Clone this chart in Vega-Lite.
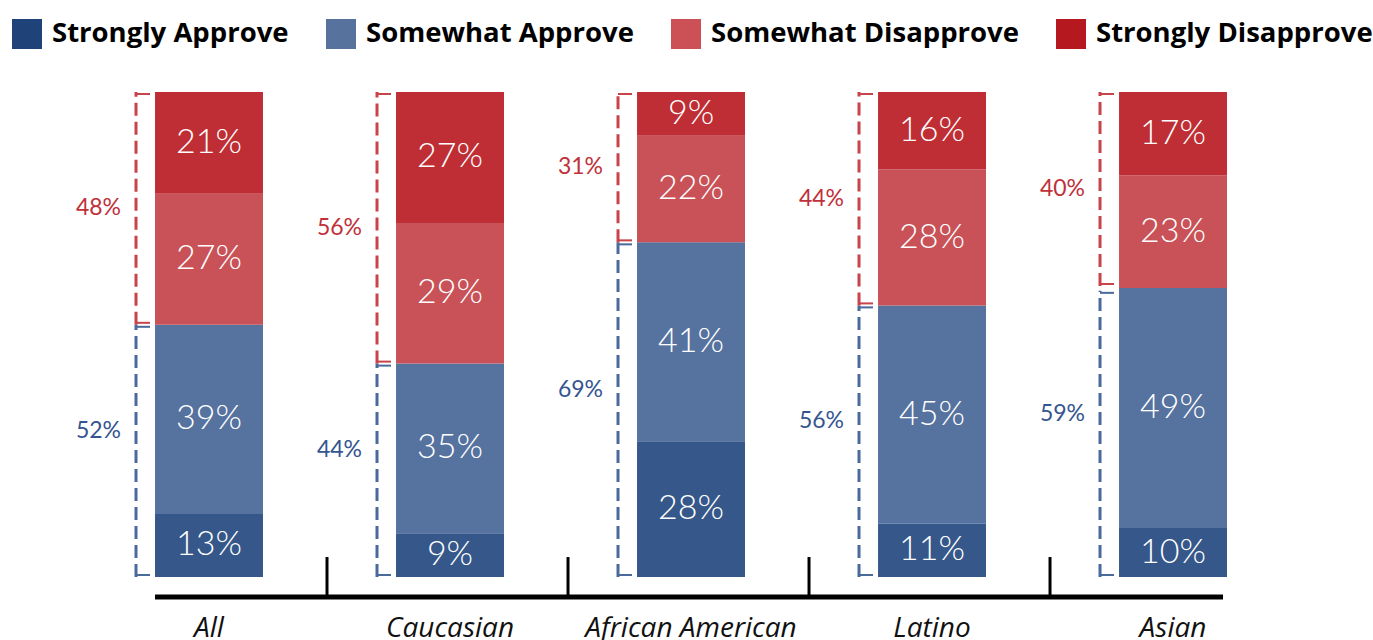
{
  "$schema": "https://vega.github.io/schema/vega-lite/v6.json",
  "width": 1373,
  "height": 505,
  "autosize": {"type": "none"},
  "padding": {"left": 0, "top": 92, "right": 0, "bottom": 43},
  "background": "white",
  "config": {"view": {"stroke": null}, "font": "Lato"},
  "datasets": {
    "bars": [
      {"group": "All", "level": "Strongly Approve", "pct": 13},
      {"group": "All", "level": "Somewhat Approve", "pct": 39},
      {"group": "All", "level": "Somewhat Disapprove", "pct": 27},
      {"group": "All", "level": "Strongly Disapprove", "pct": 21},
      {"group": "Caucasian", "level": "Strongly Approve", "pct": 9},
      {"group": "Caucasian", "level": "Somewhat Approve", "pct": 35},
      {"group": "Caucasian", "level": "Somewhat Disapprove", "pct": 29},
      {"group": "Caucasian", "level": "Strongly Disapprove", "pct": 27},
      {"group": "African American", "level": "Strongly Approve", "pct": 28},
      {"group": "African American", "level": "Somewhat Approve", "pct": 41},
      {"group": "African American", "level": "Somewhat Disapprove", "pct": 22},
      {"group": "African American", "level": "Strongly Disapprove", "pct": 9},
      {"group": "Latino", "level": "Strongly Approve", "pct": 11},
      {"group": "Latino", "level": "Somewhat Approve", "pct": 45},
      {"group": "Latino", "level": "Somewhat Disapprove", "pct": 28},
      {"group": "Latino", "level": "Strongly Disapprove", "pct": 16},
      {"group": "Asian", "level": "Strongly Approve", "pct": 10},
      {"group": "Asian", "level": "Somewhat Approve", "pct": 49},
      {"group": "Asian", "level": "Somewhat Disapprove", "pct": 23},
      {"group": "Asian", "level": "Strongly Disapprove", "pct": 17}
    ],
    "totals": [
      {"group": "All", "side": "Approve", "total": 52},
      {"group": "All", "side": "Disapprove", "total": 48},
      {"group": "Caucasian", "side": "Approve", "total": 44},
      {"group": "Caucasian", "side": "Disapprove", "total": 56},
      {"group": "African American", "side": "Approve", "total": 69},
      {"group": "African American", "side": "Disapprove", "total": 31},
      {"group": "Latino", "side": "Approve", "total": 56},
      {"group": "Latino", "side": "Disapprove", "total": 44},
      {"group": "Asian", "side": "Approve", "total": 59},
      {"group": "Asian", "side": "Disapprove", "total": 40}
    ],
    "seps": [
      {"group": "All"},
      {"group": "Caucasian"},
      {"group": "African American"},
      {"group": "Latino"}
    ]
  },
  "encoding": {
    "x": {
      "field": "group",
      "type": "nominal",
      "sort": ["All", "Caucasian", "African American", "Latino", "Asian"],
      "scale": {
        "domain": ["All", "Caucasian", "African American", "Latino", "Asian"],
        "paddingInner": 0.552,
        "paddingOuter": 0.6245,
        "align": 0.515
      },
      "axis": {
        "title": null,
        "domain": false,
        "ticks": false,
        "labelAngle": 0,
        "labelPadding": 17,
        "labelFont": "Open Sans",
        "labelFontSize": 28,
        "labelFontStyle": "italic",
        "labelColor": "#111111",
        "labelLimit": 400
      }
    }
  },
  "resolve": {"scale": {"color": "independent"}},
  "layer": [
    {
      "data": {"name": "bars"},
      "transform": [
        {"calculate": "indexof(['Strongly Approve','Somewhat Approve','Somewhat Disapprove','Strongly Disapprove'], datum.level)", "as": "rank"},
        {"stack": "pct", "groupby": ["group"], "sort": [{"field": "rank", "order": "ascending"}], "offset": "normalize", "as": ["y0", "y1"]}
      ],
      "mark": {"type": "bar", "stroke": null},
      "encoding": {
        "y": {"field": "y0", "type": "quantitative", "scale": {"domain": [-0.0412, 1], "nice": false, "zero": false}, "axis": null},
        "y2": {"field": "y1"},
        "color": {
          "field": "level",
          "type": "nominal",
          "scale": {
            "domain": ["Strongly Approve", "Somewhat Approve", "Somewhat Disapprove", "Strongly Disapprove"],
            "range": ["#355789", "#56729f", "#c85257", "#bf2e35"]
          },
          "legend": null
        }
      }
    },
    {
      "data": {"name": "bars"},
      "mark": {"type": "square", "opacity": 0, "size": 0},
      "encoding": {
        "y": {"datum": 0.5, "type": "quantitative", "axis": null},
        "color": {
          "field": "level",
          "type": "nominal",
          "scale": {
            "domain": ["Strongly Approve", "Somewhat Approve", "Somewhat Disapprove", "Strongly Disapprove"],
            "range": ["#1f4279", "#57739d", "#cb5157", "#b5191f"]
          },
          "legend": {
            "orient": "none",
            "legendX": 12,
            "legendY": -73,
            "direction": "horizontal",
            "title": null,
            "symbolType": "square",
            "symbolSize": 900,
            "symbolOpacity": 1,
            "symbolStrokeWidth": 0,
            "labelFont": "Open Sans",
            "labelFontSize": 27.5,
            "labelFontWeight": "bold",
            "labelColor": "#000000",
            "labelLimit": 500,
            "labelOffset": 10,
            "columnPadding": 37
          }
        }
      }
    },
    {
      "data": {"name": "bars"},
      "transform": [
        {"calculate": "indexof(['Strongly Approve','Somewhat Approve','Somewhat Disapprove','Strongly Disapprove'], datum.level)", "as": "rank"},
        {"stack": "pct", "groupby": ["group"], "sort": [{"field": "rank", "order": "ascending"}], "offset": "normalize", "as": ["y0", "y1"]},
        {"calculate": "(datum.y0 + datum.y1) / 2", "as": "ymid"},
        {"calculate": "datum.pct + '%'", "as": "label"}
      ],
      "mark": {"type": "text", "color": "white", "font": "Lato", "fontSize": 34, "fontWeight": 300, "baseline": "middle"},
      "encoding": {
        "y": {"field": "ymid", "type": "quantitative", "axis": null},
        "text": {"field": "label"}
      }
    },
    {
      "data": {"name": "seps"},
      "mark": {"type": "rule", "color": "black", "strokeWidth": 3, "xOffset": 118},
      "encoding": {
        "y": {"datum": -0.0412, "type": "quantitative", "axis": null},
        "y2": {"datum": 0.0412}
      }
    },
    {
      "data": {"values": [{"k": 1}]},
      "mark": {"type": "rule", "color": "black", "strokeWidth": 5, "xOffset": -54, "x2Offset": 50},
      "encoding": {
        "x": {"datum": "All", "type": "nominal"},
        "x2": {"datum": "Asian"},
        "y": {"datum": -0.0412, "type": "quantitative", "axis": null}
      }
    },
    {
      "data": {"name": "totals"},
      "transform": [
        {"calculate": "datum.side == 'Approve' ? 0 : 1 - datum.total / 100", "as": "lo"},
        {"calculate": "datum.side == 'Approve' ? datum.total / 100 : 1", "as": "hi"}
      ],
      "mark": {"type": "rule", "strokeWidth": 3, "strokeDash": [13, 6], "xOffset": -73},
      "encoding": {
        "y": {"field": "lo", "type": "quantitative", "axis": null},
        "y2": {"field": "hi"},
        "color": {"condition": {"test": "datum.side == 'Approve'", "value": "#4a6a9c"}, "value": "#c8434a"}
      }
    },
    {
      "data": {"name": "totals"},
      "transform": [
        {"calculate": "datum.side == 'Approve' ? datum.total / 100 : 1", "as": "hi"}
      ],
      "mark": {"type": "rule", "strokeWidth": 2, "xOffset": -73, "x2Offset": -59, "yOffset": 2},
      "encoding": {
        "x2": {"field": "group"},
        "y": {"field": "hi", "type": "quantitative", "axis": null},
        "color": {"condition": {"test": "datum.side == 'Approve'", "value": "#4a6a9c"}, "value": "#c8434a"}
      }
    },
    {
      "data": {"name": "totals"},
      "transform": [
        {"calculate": "datum.side == 'Approve' ? 0 : 1 - datum.total / 100", "as": "lo"}
      ],
      "mark": {"type": "rule", "strokeWidth": 2, "xOffset": -73, "x2Offset": -59, "yOffset": -2},
      "encoding": {
        "x2": {"field": "group"},
        "y": {"field": "lo", "type": "quantitative", "axis": null},
        "color": {"condition": {"test": "datum.side == 'Approve'", "value": "#4a6a9c"}, "value": "#c8434a"}
      }
    },
    {
      "data": {"name": "totals"},
      "transform": [
        {"filter": "datum.side == 'Disapprove'"},
        {"calculate": "1 - datum.total / 200", "as": "mid"},
        {"calculate": "datum.total + '%'", "as": "label"}
      ],
      "mark": {"type": "text", "align": "right", "baseline": "middle", "xOffset": -88, "font": "Lato", "fontSize": 23, "fontWeight": "normal", "color": "#c0313a"},
      "encoding": {
        "y": {"field": "mid", "type": "quantitative", "axis": null},
        "text": {"field": "label"}
      }
    },
    {
      "data": {"name": "totals"},
      "transform": [
        {"filter": "datum.side == 'Approve'"},
        {"calculate": "datum.total / 200", "as": "mid"},
        {"calculate": "datum.total + '%'", "as": "label"}
      ],
      "mark": {"type": "text", "align": "right", "baseline": "middle", "xOffset": -88, "dy": -20, "font": "Lato", "fontSize": 23, "fontWeight": "normal", "color": "#34558f"},
      "encoding": {
        "y": {"field": "mid", "type": "quantitative", "axis": null},
        "text": {"field": "label"}
      }
    }
  ]
}
